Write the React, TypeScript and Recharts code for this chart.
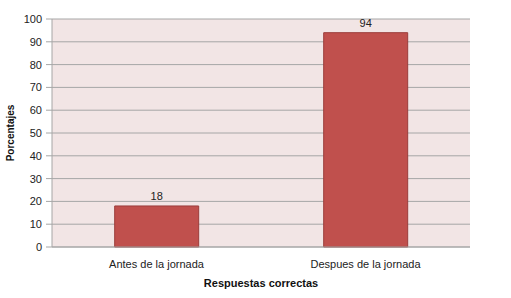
import { Bar, BarChart, CartesianGrid, LabelList, XAxis, YAxis } from 'recharts';

const categories = ['Antes de la jornada', 'Despues de la jornada'];
const values = [18, 94];
const yTicks = [0, 10, 20, 30, 40, 50, 60, 70, 80, 90, 100];

const data = categories.map((name, i) => ({ name, value: values[i] }));

const font = 'Liberation Sans, Arial, sans-serif';

export default function App() {
  return (
    <div style={{ position: 'absolute', left: 0, top: 0 }}>
      <BarChart
        width={511}
        height={298}
        data={data}
        margin={{ top: 19, right: 41, left: 0, bottom: 0 }}
        barCategoryGap="30%"
      >
        <CartesianGrid
          vertical={false}
          fill="#f2e5e5"
          stroke="#a6a6a6"
          strokeWidth={1}
        />
        <XAxis
          dataKey="name"
          height={51}
          stroke="#a6a6a6"
          tickLine={false}
          tick={{ fill: '#222', fontSize: 11, fontFamily: font }}
          tickMargin={7}
          label={{
            value: 'Respuestas correctas',
            position: 'insideBottom',
            offset: 11,
            fill: '#111',
            fontSize: 11,
            fontWeight: 'bold',
            fontFamily: font,
          }}
        />
        <YAxis
          width={52}
          domain={[0, 100]}
          ticks={yTicks}
          interval={0}
          stroke="#a6a6a6"
          tickSize={6}
          tickMargin={4}
          tick={{ fill: '#222', fontSize: 11, fontFamily: font }}
          label={{
            value: 'Porcentajes',
            angle: -90,
            position: 'insideLeft',
            offset: 10,
            fill: '#111',
            fontSize: 10,
            fontWeight: 'bold',
            fontFamily: font,
            style: { textAnchor: 'middle' },
          }}
        />
        <Bar
          dataKey="value"
          fill="#c0504d"
          stroke="#9b3d3b"
          strokeWidth={1}
          isAnimationActive={false}
        >
          <LabelList
            dataKey="value"
            position="top"
            offset={6}
            fill="#222"
            fontSize={11}
            fontFamily={font}
          />
        </Bar>
      </BarChart>
    </div>
  );
}
